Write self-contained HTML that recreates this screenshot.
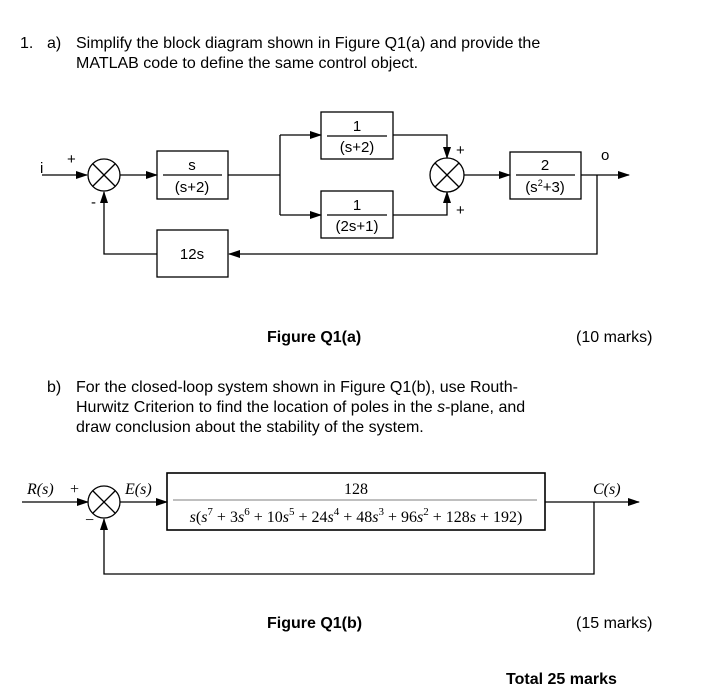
<!DOCTYPE html>
<html><head><meta charset="utf-8"><style>
html,body{margin:0;padding:0;background:#fff;}
svg{display:block;}
.t{font-family:"Liberation Sans",sans-serif;font-size:16px;fill:#000;}
.d{font-family:"Liberation Sans",sans-serif;font-size:15px;fill:#000;}
.b{font-weight:bold;}
.s{font-family:"Liberation Serif",serif;font-size:16px;fill:#000;}
</style></head><body>
<svg width="702" height="697" viewBox="0 0 702 697" xmlns="http://www.w3.org/2000/svg">
<defs><marker id="a" markerWidth="12" markerHeight="10" refX="11" refY="5" orient="auto" markerUnits="userSpaceOnUse"><path d="M0,1 L12,5 L0,9 Z" fill="#000"/></marker></defs>
<text class="t" x="20" y="48">1.</text><text class="t" x="47" y="48">a)</text>
<text class="t" x="76" y="48">Simplify the block diagram shown in Figure Q1(a) and provide the</text>
<text class="t" x="76" y="68">MATLAB code to define the same control object.</text>

<g stroke="#000" stroke-width="1.3" fill="none">
<line x1="42" y1="175" x2="87" y2="175" marker-end="url(#a)"/>
<circle cx="104" cy="175" r="16"/>
<line x1="93" y1="164" x2="115" y2="186"/><line x1="115" y1="164" x2="93" y2="186"/>
<line x1="120" y1="175" x2="157" y2="175" marker-end="url(#a)"/>
<rect x="157" y="151" width="71" height="48"/>
<line x1="228" y1="175" x2="280" y2="175"/>
<polyline points="280,135 280,215"/>
<line x1="280" y1="135" x2="321" y2="135" marker-end="url(#a)"/>
<line x1="280" y1="215" x2="321" y2="215" marker-end="url(#a)"/>
<rect x="321" y="112" width="72" height="47"/>
<rect x="321" y="191" width="72" height="47"/>
<polyline points="393,135 447,135 447,158" marker-end="url(#a)"/>
<polyline points="393,215 447,215 447,192" marker-end="url(#a)"/>
<circle cx="447" cy="175" r="17"/>
<line x1="435" y1="163" x2="459" y2="187"/><line x1="459" y1="163" x2="435" y2="187"/>
<line x1="464" y1="175" x2="510" y2="175" marker-end="url(#a)"/>
<rect x="510" y="152" width="71" height="47"/>
<line x1="581" y1="175" x2="629" y2="175" marker-end="url(#a)"/>
<polyline points="597,175 597,254 229,254" marker-end="url(#a)"/>
<rect x="157" y="230" width="71" height="47"/>
<polyline points="157,254 104,254 104,192" marker-end="url(#a)"/>
<line x1="163" y1="175" x2="222" y2="175"/>
<line x1="327" y1="136" x2="387" y2="136"/>
<line x1="327" y1="215" x2="387" y2="215"/>
<line x1="516" y1="175" x2="575" y2="175"/>
</g>
<text class="d" x="40" y="173">i</text>
<text class="d" x="67" y="164" font-size="15">+</text>
<text class="d" x="91" y="207">-</text>
<text class="d" x="192" y="170" text-anchor="middle">s</text>
<text class="d" x="192" y="192" text-anchor="middle">(s+2)</text>
<text class="d" x="357" y="131" text-anchor="middle">1</text>
<text class="d" x="357" y="152" text-anchor="middle">(s+2)</text>
<text class="d" x="357" y="210" text-anchor="middle">1</text>
<text class="d" x="357" y="231" text-anchor="middle">(2s+1)</text>
<text class="d" x="456" y="155" font-size="15">+</text>
<text class="d" x="456" y="215" font-size="15">+</text>
<text class="d" x="545" y="170" text-anchor="middle">2</text>
<text class="d" x="545" y="192" text-anchor="middle">(s<tspan dy="-6" font-size="9">2</tspan><tspan dy="6">+3)</tspan></text>
<text class="d" x="601" y="160">o</text>
<text class="d" x="192" y="259" text-anchor="middle">12s</text>

<text class="t b" x="267" y="342">Figure Q1(a)</text>
<text class="t" x="576" y="342">(10 marks)</text>

<text class="t" x="47" y="392">b)</text>
<text class="t" x="76" y="392">For the closed-loop system shown in Figure Q1(b), use Routh-</text>
<text class="t" x="76" y="412">Hurwitz Criterion to find the location of poles in the <tspan font-style="italic">s</tspan>-plane, and</text>
<text class="t" x="76" y="432">draw conclusion about the stability of the system.</text>

<g stroke="#000" stroke-width="1.3" fill="none">
<line x1="22" y1="502" x2="88" y2="502" marker-end="url(#a)"/>
<circle cx="104" cy="502" r="16"/>
<line x1="93" y1="491" x2="115" y2="513"/><line x1="115" y1="491" x2="93" y2="513"/>
<line x1="120" y1="502" x2="167" y2="502" marker-end="url(#a)"/>
<rect x="167" y="473" width="378" height="57" stroke-width="1.6"/>
<line x1="545" y1="502" x2="639" y2="502" marker-end="url(#a)"/>
<polyline points="594,502 594,574 104,574 104,519" marker-end="url(#a)"/>
</g>
<line x1="173" y1="500" x2="537" y2="500" stroke="#999" stroke-width="1.3"/>
<text class="s" x="27" y="494" font-style="italic">R(s)</text>
<text class="s" x="70" y="494">+</text>
<text class="s" x="85" y="525">−</text>
<text class="s" x="125" y="494" font-style="italic">E(s)</text>
<text class="s" x="356" y="494" text-anchor="middle">128</text>
<text class="s" x="356" y="522" text-anchor="middle" font-size="17"><tspan font-style="italic">s</tspan>(<tspan font-style="italic">s</tspan><tspan dy="-7" font-size="11">7</tspan><tspan dy="7"> + 3</tspan><tspan font-style="italic">s</tspan><tspan dy="-7" font-size="11">6</tspan><tspan dy="7"> + 10</tspan><tspan font-style="italic">s</tspan><tspan dy="-7" font-size="11">5</tspan><tspan dy="7"> + 24</tspan><tspan font-style="italic">s</tspan><tspan dy="-7" font-size="11">4</tspan><tspan dy="7"> + 48</tspan><tspan font-style="italic">s</tspan><tspan dy="-7" font-size="11">3</tspan><tspan dy="7"> + 96</tspan><tspan font-style="italic">s</tspan><tspan dy="-7" font-size="11">2</tspan><tspan dy="7"> + 128</tspan><tspan font-style="italic">s</tspan> + 192)</text>
<text class="s" x="593" y="494" font-style="italic">C(s)</text>

<text class="t b" x="267" y="628">Figure Q1(b)</text>
<text class="t" x="576" y="628">(15 marks)</text>
<text class="t b" x="506" y="684">Total 25 marks</text>
</svg>
</body></html>
